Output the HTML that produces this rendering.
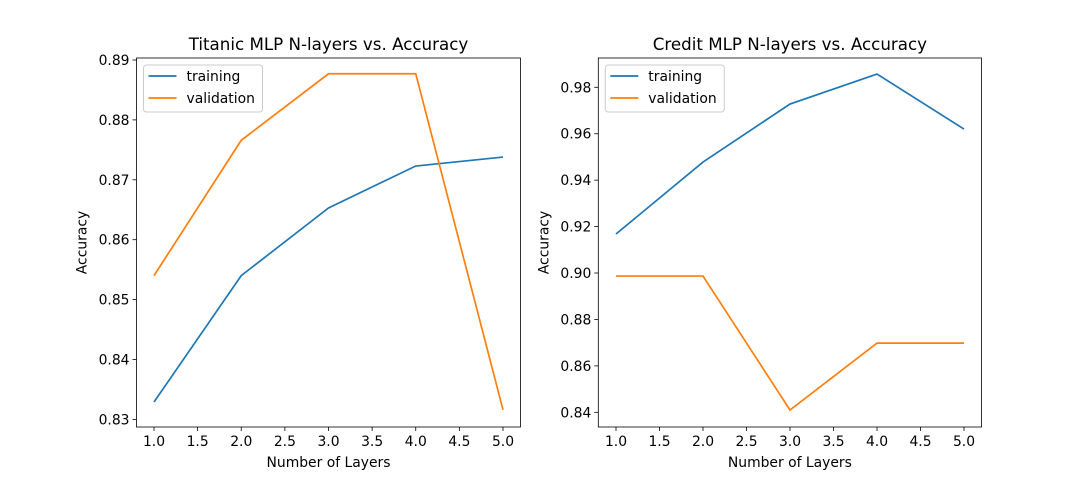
<!DOCTYPE html>
<html><head><meta charset="utf-8"><style>body{margin:0;background:#fff}svg{display:block;font-family:"DejaVu Sans","Liberation Sans",sans-serif}</style></head>
<body>
<svg id="fig" width="1091" height="480" viewBox="0 0 1091 480"></svg>
<script>
const categories=[1,2,3,4,5];
const titanicTraining=[0.8329,0.8540,0.8653,0.8723,0.8738];
const titanicValidation=[0.8540,0.8766,0.8877,0.8877,0.8316];
const creditTraining=[0.9168,0.9478,0.9728,0.9857,0.9620];
const creditValidation=[0.8987,0.8987,0.8410,0.8698,0.8698];
const xTicks=[1.0,1.5,2.0,2.5,3.0,3.5,4.0,4.5,5.0];
const titanicYTicks=[0.83,0.84,0.85,0.86,0.87,0.88,0.89];
const creditYTicks=[0.84,0.86,0.88,0.90,0.92,0.94,0.96,0.98];
const NS="http://www.w3.org/2000/svg";
const svg=document.getElementById('fig');
function mk(t,a,p){const e=document.createElementNS(NS,t);for(const k in a)e.setAttribute(k,a[k]);(p||svg).appendChild(e);return e;}
function panel(name,title,L,R,T,B,x,y,yTicks,train,val,dec){
  const g=mk('g',{});
  
  
  const t=mk('text',{x:(L+R)/2,y:T-8,'text-anchor':'middle','font-size':16.7,fill:'#000'},g);t.textContent=title;
  
  
  xTicks.forEach(v=>{const px=x(v);mk('line',{x1:px,x2:px,y1:B,y2:B+4,stroke:'#000','stroke-width':0.8},g);
    const l=mk('text',{x:px,y:B+19,'text-anchor':'middle','font-size':13.9},g);l.textContent=v.toFixed(1);
    
    });
  yTicks.forEach(v=>{const py=y(v);mk('line',{x1:L-4,x2:L,y1:py,y2:py,stroke:'#000','stroke-width':0.8},g);
    const l=mk('text',{x:L-7,y:py+5,'text-anchor':'end','font-size':13.9},g);l.textContent=v.toFixed(dec);
    
    });
  const xl=mk('text',{x:(L+R)/2,y:B+40,'text-anchor':'middle','font-size':13.9},g);xl.textContent='Number of Layers';
  
  
  const yl=mk('text',{x:0,y:0,'text-anchor':'middle','font-size':13.9,transform:`translate(${L-50},${(T+B)/2}) rotate(-90)`},g);yl.textContent='Accuracy';
  
  
  [[train,'#1f77b4','training-line'],[val,'#ff7f0e','validation-line']].forEach(([d,c,n])=>{
    const p=mk('polyline',{points:d.map((v,i)=>x(categories[i])+','+y(v)).join(' '),fill:'none',stroke:c,'stroke-width':1.7},g);
    
    });
  mk('rect',{x:L,y:T,width:R-L,height:B-T,fill:'none',stroke:'#000','stroke-width':0.8},g);
  const lg=mk('g',{},g);
  
  
  mk('rect',{x:L+7,y:T+7,width:119,height:47,fill:'#fff',stroke:'#ccc',rx:3},lg);
  [['training','#1f77b4'],['validation','#ff7f0e']].forEach(([n,c],i)=>{const yy=T+18+i*22;
    mk('line',{x1:L+12,x2:L+40,y1:yy,y2:yy,stroke:c,'stroke-width':1.7},lg);
    const tx=mk('text',{x:L+50,y:yy+5,'font-size':13.9},lg);tx.textContent=n;
    
    });
}
panel('titanic-chart','Titanic MLP N-layers vs. Accuracy',136.5,520.5,58,427,
  v=>154+(v-1)*87.25, v=>60+(0.89-v)*5990, titanicYTicks, titanicTraining, titanicValidation,2);
panel('credit-chart','Credit MLP N-layers vs. Accuracy',598.3,981.5,58,427,
  v=>616+(v-1)*87, v=>87.3+(0.98-v)*2321.5, creditYTicks, creditTraining, creditValidation,2);
</script>
</body></html>
